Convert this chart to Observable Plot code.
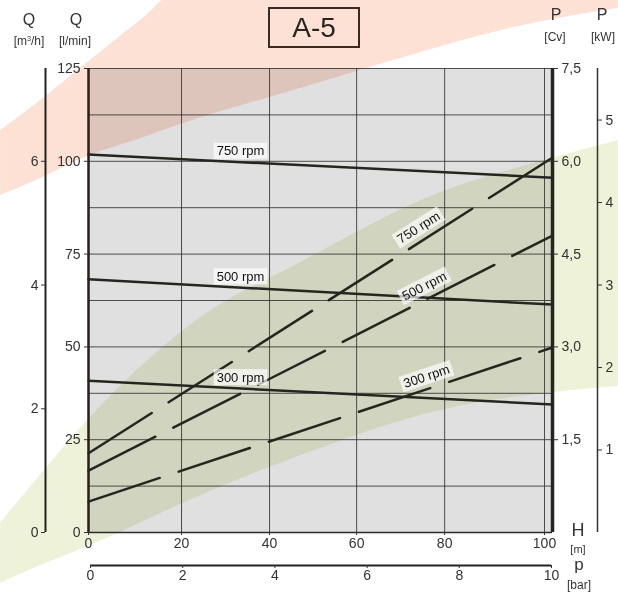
<!DOCTYPE html>
<html><head><meta charset="utf-8">
<script src="https://cdn.jsdelivr.net/npm/d3@7"></script>
<script src="https://cdn.jsdelivr.net/npm/@observablehq/plot@0.6"></script>
<style>
body{margin:0;background:#fff;}
#wrap{position:relative;width:618px;height:594px;overflow:hidden;font-family:"Liberation Sans",Arial,sans-serif;color:#333;}
#wrap svg{position:absolute;left:0;top:0;}
.lab{position:absolute;transform:translateX(-50%);white-space:nowrap;line-height:1;}
.sup{font-size:0.6em;vertical-align:0.55em;line-height:0;}
#title{position:absolute;left:268px;top:7px;width:92px;height:41px;box-sizing:border-box;border:2.5px solid #3b2a22;display:flex;align-items:center;justify-content:center;font-size:28px;color:#2a2420;}
</style></head><body><div id="wrap"></div>
<script>
// ---- tick values
const headTicks = [0, 20, 40, 60, 80, 100];          // H [m]
const headDrawn = [0, 20.4, 39.7, 58.8, 78.1, 100];  // where the printed H ticks sit (the printed scale is slightly uneven)
const flowTicks = [0, 25, 50, 75, 100, 125];         // Q [l/min]
const flowGrid  = [12.5, 25, 37.5, 50, 62.5, 75, 87.5, 100, 112.5, 125];
const m3hTicks  = [0, 2, 4, 6];                      // Q [m3/h]
const cvTicks   = [1.5, 3, 4.5, 6, 7.5];             // P [Cv]
const kwTicks   = [1, 2, 3, 4, 5];                   // P [kW]
const barTicks  = [0, 2, 4, 6, 8, 10];               // p [bar]

// ---- series
const speeds    = ["750 rpm", "500 rpm", "300 rpm"];
const curveHead = [0, 101.6];                        // H at start / end of every curve
const flow750   = [101.8, 95.6];                     // Q l/min
const flow500   = [68.2, 61.4];
const flow300   = [40.9, 34.5];
const power750  = [1.28, 6.06];                      // P Cv
const power500  = [1.0, 4.8];
const power300  = [0.5, 2.99];
const flowLabelHead  = [33.4, 33.4, 33.4];
const powerLabelHead = [74.1, 75.4, 75.9];
const powerLabelAngle = [-32.5, -27, -18.4];

// ---- unit relations of the secondary axes
const CV_PER_LMIN  = 7.5 / 125;
const LMIN_PER_M3H = 1000 / 60;
const CV_PER_KW    = 4 / 3;

// ---- background swooshes (chart units H, Q)
const pinkHead  = [-18.9, -10.3, 0.43, 11.2, 19.8, 47.1, 69.9, 91.2, 114.8];
const pinkLow   = [90.8, 95.4, 101.6, 106.1, 109.9, 119.6, 127.7, 135.2, 141.2];
const pinkHigh  = [108.3, 116.4, 127.2, 137.9, 146, 146, 146, 146, 146];
const greenHead = [-18.9, -10.3, 0.43, 24.4, 47.1, 79.1, 101.6, 114.8];
const greenLow  = [-13.7, -8.9, -3.5, 10.0, 20.7, 32.9, 37.7, 39.3];
const greenHigh = [2.5, 15.5, 31.0, 57.9, 72.7, 91.6, 100.8, 105.6];

const flows  = [flow750, flow500, flow300];
const powers = [power750, power500, power300];
const flowRows  = speeds.flatMap((s, i) => curveHead.map((h, j) => ({speed: s, head: h, q: flows[i][j]})));
const powerRows = speeds.flatMap((s, i) => curveHead.map((h, j) => ({speed: s, head: h, q: powers[i][j] / CV_PER_LMIN})));
const lerp = (arr, h) => arr[0] + (arr[1] - arr[0]) * (h - curveHead[0]) / (curveHead[1] - curveHead[0]);
const flowLabels  = speeds.map((s, i) => ({speed: s, head: flowLabelHead[i], q: lerp(flows[i], flowLabelHead[i])}));
const powerLabels = speeds.map((s, i) => ({speed: s, head: powerLabelHead[i], q: lerp(powers[i], powerLabelHead[i]) / CV_PER_LMIN, a: powerLabelAngle[i]}));
const pink  = pinkHead.map((h, i) => ({h, lo: pinkLow[i], hi: pinkHigh[i]}));
const green = greenHead.map((h, i) => ({h, lo: greenLow[i], hi: greenHigh[i]}));

const FONT = '"Liberation Sans", Arial, sans-serif';
const ink = "#262620";
const hEnd = curveHead[1];
const warp = d3.scaleLinear().domain(headTicks).range(headDrawn);

const main = Plot.plot({
  width: 618, height: 594,
  marginLeft: 88, marginRight: 66, marginTop: 68, marginBottom: 62,
  x: {transform: h => warp(h), domain: [0, warp(hEnd)]},
  y: {domain: [0, 125]},
  style: {fontFamily: FONT, background: "transparent", color: "#333", overflow: "visible"},
  marks: [
    Plot.frame({fill: "#e0e0e0", stroke: "none"}),
    Plot.areaY(pink,  {x: "h", y1: "lo", y2: "hi", fill: "#fde1d5", mixBlendMode: "multiply", curve: "monotone-x"}),
    Plot.areaY(green, {x: "h", y1: "lo", y2: "hi", fill: "#eef2d9", mixBlendMode: "multiply", curve: "monotone-x"}),
    Plot.ruleY(flowGrid, {stroke: "#333", strokeOpacity: 0.85, strokeWidth: 1}),
    Plot.ruleX(headTicks.slice(1), {stroke: "#333", strokeOpacity: 0.85, strokeWidth: 1}),
    Plot.ruleY([0], {stroke: "#2a2a2a", strokeWidth: 1.5}),
    Plot.ruleX([0], {stroke: "#2a1e18", strokeWidth: 2.5}),
    Plot.ruleX([hEnd], {stroke: ink, strokeWidth: 3.5}),
    Plot.ruleX([0], {dx: -43, stroke: "#222", strokeWidth: 2}),
    Plot.ruleX([hEnd], {dx: 45, stroke: "#333", strokeWidth: 1.5}),
    Plot.axisY(flowTicks, {anchor: "left", tickSize: 4, tickPadding: 4, fontSize: 14, label: null, color: "#333"}),
    Plot.axisY(m3hTicks.map(m => m * LMIN_PER_M3H), {anchor: "left", dx: -43, tickSize: 4, tickPadding: 3, fontSize: 14, label: null,
      tickFormat: q => String(Math.round(q / LMIN_PER_M3H)), color: "#333"}),
    Plot.axisY(cvTicks.map(c => c / CV_PER_LMIN), {anchor: "right", tickSize: 5, tickPadding: 4, fontSize: 14, label: null,
      tickFormat: q => (q * CV_PER_LMIN).toFixed(1).replace(".", ","), color: "#333"}),
    Plot.axisY(kwTicks.map(k => k * CV_PER_KW / CV_PER_LMIN), {anchor: "right", dx: 45, tickSize: 4, tickPadding: 4, fontSize: 14, label: null,
      tickFormat: q => String(Math.round(q * CV_PER_LMIN / CV_PER_KW)), color: "#333"}),
    Plot.axisX(headTicks, {anchor: "bottom", tickSize: 3, tickPadding: 3, fontSize: 14, label: null, color: "#333"}),
    Plot.line(flowRows, {x: "head", y: "q", z: "speed", stroke: ink, strokeWidth: 2.5}),
    Plot.line(powerRows, {x: "head", y: "q", z: "speed", stroke: ink, strokeWidth: 2.5, strokeDasharray: "75,20"}),
    Plot.text(flowLabels, {x: "head", y: "q", text: "speed", dy: -11, fontSize: 13, fill: "#111"}),
    Plot.text(powerLabels, {x: "head", y: "q", text: "speed", rotate: "a", dy: -10, fontSize: 13, fill: "#111"})
  ]
});

const bar = Plot.plot({
  width: 618, height: 46,
  marginLeft: 90, marginRight: 67, marginTop: 5, marginBottom: 29,
  x: {domain: [barTicks[0], barTicks[barTicks.length - 1]]},
  y: {domain: [0, 1], axis: null},
  style: {fontFamily: FONT, background: "transparent", color: "#333", overflow: "visible"},
  marks: [
    Plot.ruleY([0], {stroke: "#222", strokeWidth: 2}),
    Plot.axisX(barTicks, {anchor: "bottom", tickSize: 3, tickPadding: 2, fontSize: 14, label: null, color: "#333"})
  ]
});
bar.style.top = "548px";

const wrap = document.getElementById("wrap");
wrap.appendChild(main);
wrap.appendChild(bar);

// light boxes behind the curve labels
for (const t of main.querySelectorAll("text")) {
  if (!/rpm/.test(t.textContent)) continue;
  const b = t.getBBox();
  const r = document.createElementNS("http://www.w3.org/2000/svg", "rect");
  r.setAttribute("x", b.x - 3); r.setAttribute("y", b.y - 0.5);
  r.setAttribute("width", b.width + 6); r.setAttribute("height", b.height + 1);
  r.setAttribute("fill", "#ffffff"); r.setAttribute("fill-opacity", "0.68");
  const tr = t.getAttribute("transform"); if (tr) r.setAttribute("transform", tr);
  t.parentNode.insertBefore(r, t);
}

// header / unit labels
function label(html, cx, baseline, size) {
  const d = document.createElement("div");
  d.className = "lab"; d.innerHTML = html;
  d.style.left = cx + "px"; d.style.top = (baseline - 0.85 * size) + "px"; d.style.fontSize = size + "px";
  wrap.appendChild(d);
}
label("Q", 29, 26, 16); label('[m<span class="sup">3</span>/h]', 29, 45, 12);
label("Q", 76, 26, 16); label("[l/min]", 75, 45, 12);
label("P", 556, 21, 16); label("[Cv]", 555, 41, 12);
label("P", 602, 21, 16); label("[kW]", 603, 41, 12);
label("H", 578, 536, 18); label("[m]", 578, 553, 11);
label("p", 579, 570, 17); label("[bar]", 579, 589, 12);
const t = document.createElement("div"); t.id = "title"; t.textContent = "A-5"; wrap.appendChild(t);
</script></body></html>
